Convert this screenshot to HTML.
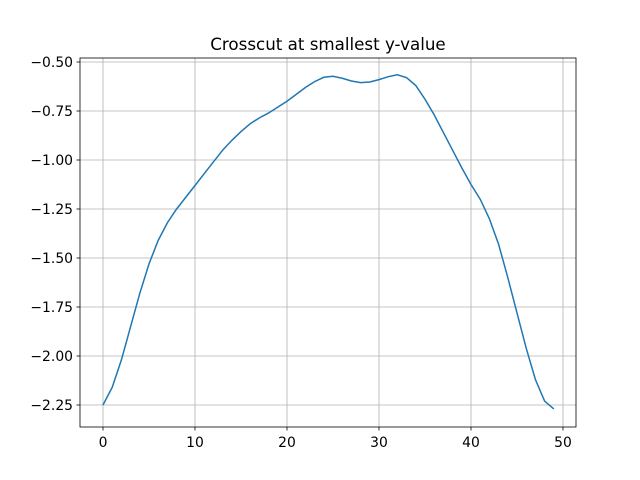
<!DOCTYPE html>
<html><head><meta charset="utf-8"><style>body{margin:0;background:#fff}svg{display:block}text{font-family:"DejaVu Sans","Liberation Sans",sans-serif}</style></head>
<body>
<svg id="chart" width="640" height="480" xmlns="http://www.w3.org/2000/svg">
<rect width="640" height="480" fill="#fff"/>
<text x="328" y="50" font-size="16.7" text-anchor="middle">Crosscut at smallest y-value</text>
<g id="grid"></g><g id="ticks"></g>
<path id="line" fill="none" stroke="#1f77b4" stroke-width="1.5"/>
<rect x="80" y="58" width="496" height="369" fill="none" stroke="#000" stroke-width="0.8"/>
</svg>
<script>
const xTicks=[0,10,20,30,40,50];
const yTicks=[-0.5,-0.75,-1.0,-1.25,-1.5,-1.75,-2.0,-2.25];
const yTickLabels=["−0.50","−0.75","−1.00","−1.25","−1.50","−1.75","−2.00","−2.25"];
const values=[-2.25,-2.16,-2.02,-1.85,-1.68,-1.53,-1.41,-1.32,-1.25,-1.19,-1.13,-1.07,-1.01,-0.95,-0.90,-0.855,-0.815,-0.785,-0.76,-0.73,-0.70,-0.665,-0.63,-0.60,-0.578,-0.573,-0.583,-0.597,-0.605,-0.602,-0.59,-0.575,-0.565,-0.58,-0.62,-0.69,-0.77,-0.86,-0.95,-1.04,-1.125,-1.2,-1.3,-1.43,-1.6,-1.78,-1.96,-2.12,-2.23,-2.27];
const X=v=>103+v*9.2, Y=v=>62+(-0.5-v)/0.25*49;
const ns="http://www.w3.org/2000/svg";
const grid=document.getElementById('grid'), ticks=document.getElementById('ticks');
function mk(p,tag,a){const e=document.createElementNS(ns,tag);for(const k in a)e.setAttribute(k,a[k]);p.appendChild(e);return e;}
xTicks.forEach(t=>{const x=X(t);
 const g=mk(grid,'line',{x1:x,x2:x,y1:58,y2:427,stroke:'#b0b0b0','stroke-width':0.8});
 
 
 const tk=mk(ticks,'line',{x1:x,x2:x,y1:427,y2:430.5,stroke:'#000','stroke-width':0.8});
 
 
 const l=mk(ticks,'text',{x:x,y:447,'font-size':13.9,'text-anchor':'middle'});l.textContent=t;
 
 });
yTicks.forEach((t,i)=>{const y=Y(t);
 const g=mk(grid,'line',{x1:80,x2:576,y1:y,y2:y,stroke:'#b0b0b0','stroke-width':0.8});
 
 
 const tk=mk(ticks,'line',{x1:76.5,x2:80,y1:y,y2:y,stroke:'#000','stroke-width':0.8});
 
 
 const l=mk(ticks,'text',{x:73,y:y+5,'font-size':13.9,'text-anchor':'end'});l.textContent=yTickLabels[i];
 
 });
document.getElementById('line').setAttribute('d',values.map((v,i)=>(i?'L':'M')+X(i)+','+Y(v)).join(''));
</script>
</body></html>
